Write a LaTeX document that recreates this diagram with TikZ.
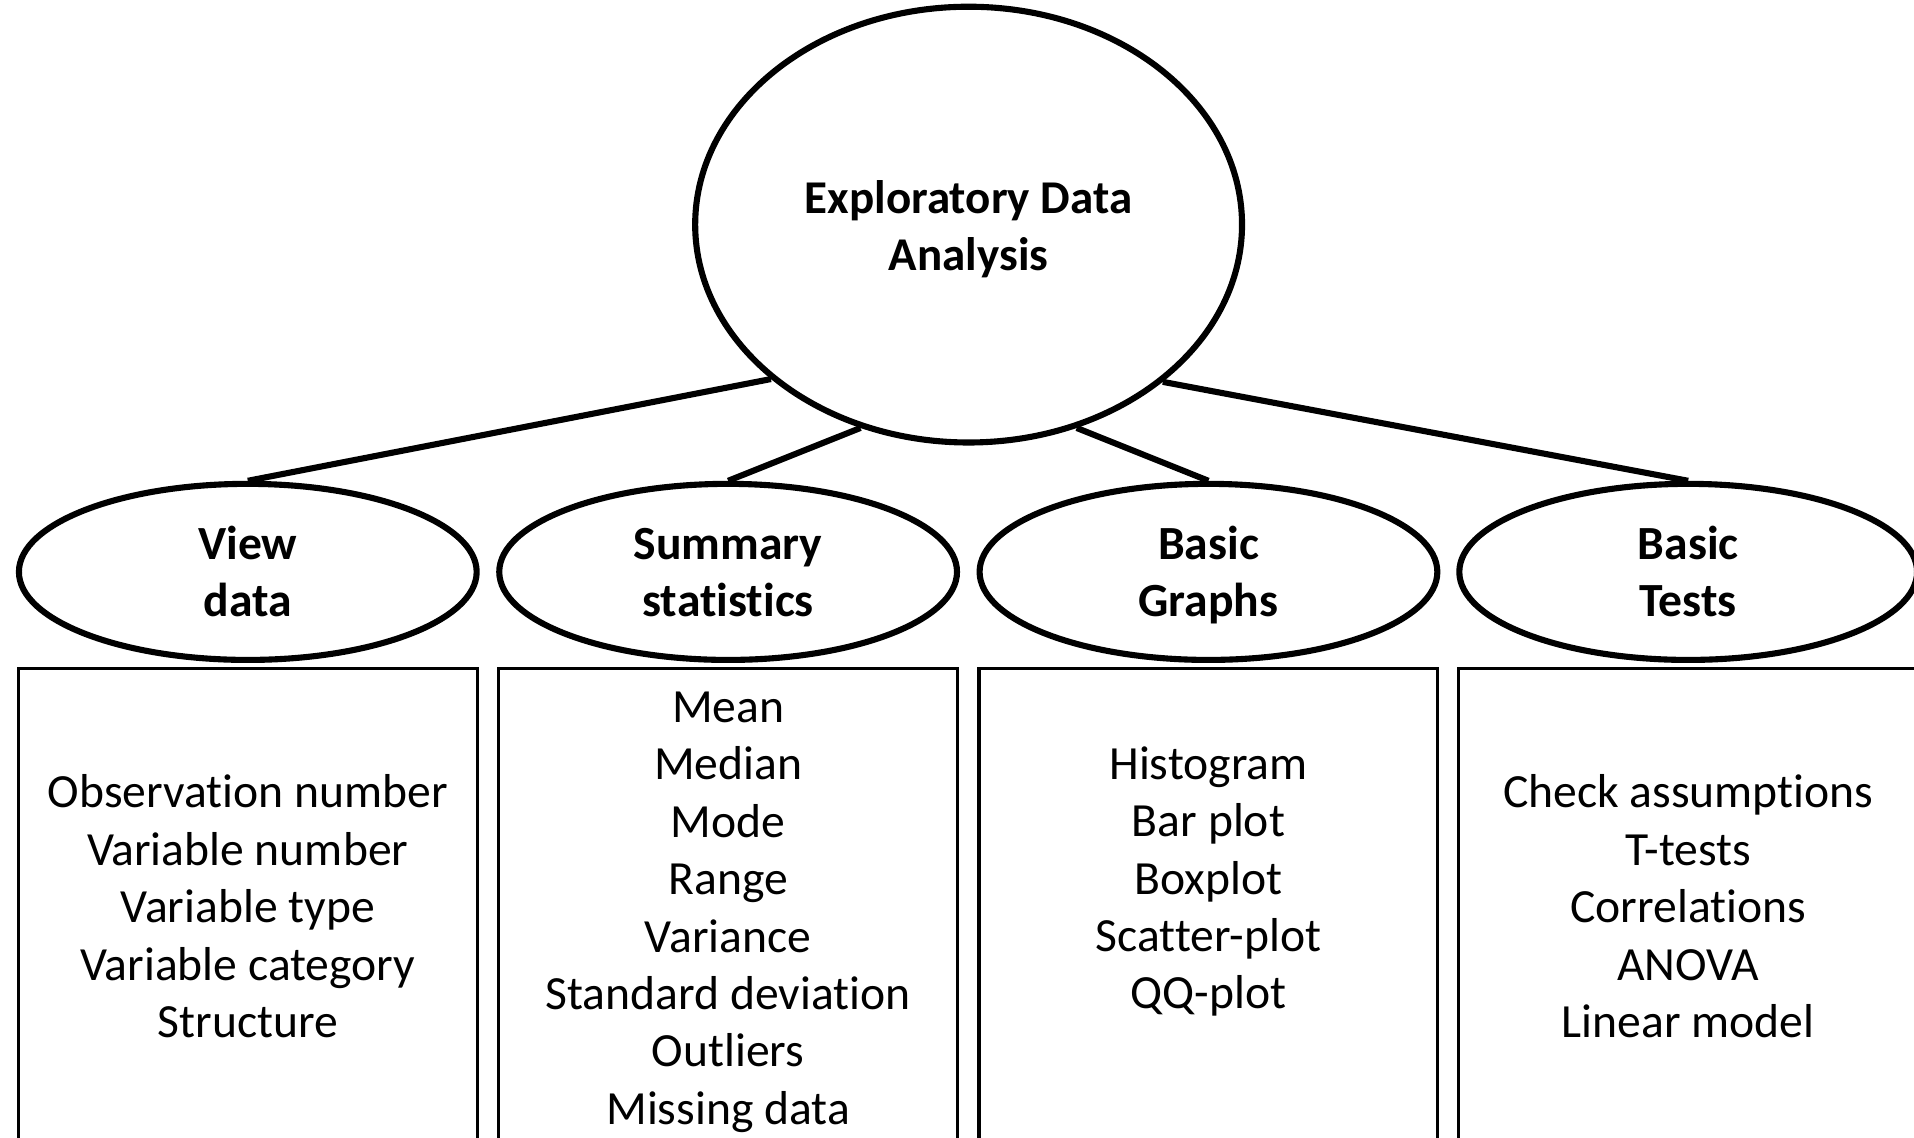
\documentclass[tikz,border=0pt]{standalone}
\usepackage{fontspec}
\setmainfont{Carlito}[Ligatures=NoCommon]
\usetikzlibrary{shapes.geometric}
\newcommand\topstrut[1]{\rule[-0.3\baselineskip]{0pt}{\dimexpr\baselineskip+#1\relax}}
\begin{document}
\begin{tikzpicture}[x=1pt,y=-1pt,
  big/.style={ellipse,draw,line width=5pt,minimum width=448pt,minimum height=357pt,inner sep=0pt,align=center,font=\fontsize{38.5}{47}\selectfont\bfseries},
  sub/.style={ellipse,draw,line width=5pt,minimum width=375pt,minimum height=142pt,inner sep=0pt,align=center,font=\fontsize{39}{47}\selectfont\bfseries},
  box/.style={rectangle,draw,line width=2.5pt,minimum width=376pt,minimum height=390pt,inner sep=0pt,align=center,font=\fontsize{39}{47}\selectfont},
  link/.style={line width=5pt}]
\useasboundingbox (0,0) rectangle (1568,932);
\clip (0,0) rectangle (1568,932);
\fill[white] (0,0) rectangle (1568,932);

\node[big] (eda) at (793.5,184) {\topstrut{10pt}Exploratory Data\\Analysis\strut};

\node[sub] (view) at (203,468.5) {\topstrut{8pt}View\\data\strut};
\node[sub] (summ) at (596.5,468.5) {\topstrut{8pt}Summary\\statistics\strut};
\node[sub] (graphs) at (990,468.5) {\topstrut{8pt}Basic\\Graphs\strut};
\node[sub] (tests) at (1383,468.5) {\topstrut{8pt}Basic\\Tests\strut};

\node[box] (viewbox) at (203,743) {\topstrut{7pt}Observation number\\Variable number\\Variable type\\Variable category\\Structure\strut};
\node[box] (summbox) at (596.5,743) {\topstrut{8pt}Mean\\Median\\Mode\\Range\\Variance\\Standard deviation\\Outliers\\Missing data\strut};
\node[box] (graphsbox) at (990,743) {\topstrut{7pt}Histogram\\Bar plot\\Boxplot\\Scatter-plot\\QQ-plot\\\strut};
\node[box] (testsbox) at (1383,743) {\topstrut{7pt}Check assumptions\\T-tests\\Correlations\\ANOVA\\Linear model\strut};

\draw[link] (eda.218.5) -- (view.north);
\draw[link] (eda.242) -- (summ.north);
\draw[link] (eda.298.5) -- (graphs.north);
\draw[link] (eda.321.5) -- (tests.north);
\end{tikzpicture}
\end{document}
